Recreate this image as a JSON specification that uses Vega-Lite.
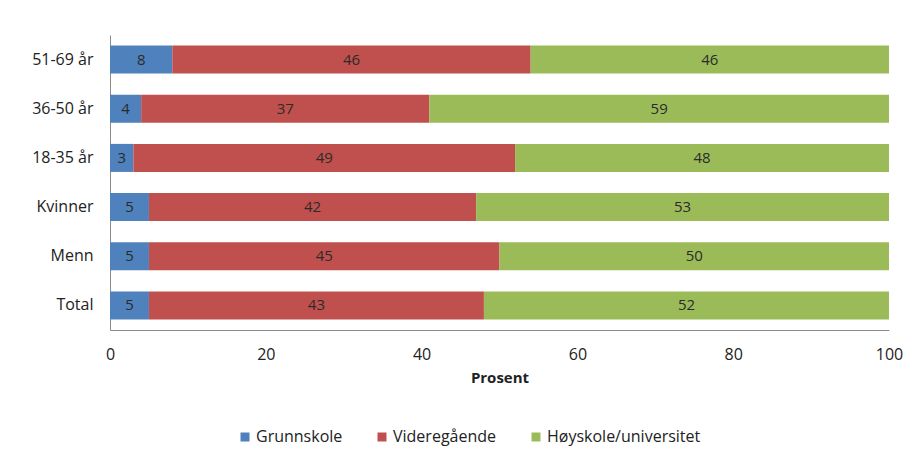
{
  "$schema": "https://vega.github.io/schema/vega-lite/v6.json",
  "width": 779,
  "height": 295,
  "autosize": {"type": "none"},
  "padding": {"left": 110, "top": 35, "right": 26, "bottom": 131},
  "background": "#ffffff",
  "config": {
    "font": "Open Sans",
    "view": {"stroke": null},
    "axis": {"grid": false, "ticks": false, "domainColor": "#8c8c8c", "labelColor": "#222222", "labelFontSize": 16, "labelFont": "Open Sans"}
  },
  "data": {
    "values": [
      {"kategori": "51-69 år", "utdanning": "Grunnskole", "rekkefølge": 1, "prosent": 8},
      {"kategori": "51-69 år", "utdanning": "Videregående", "rekkefølge": 2, "prosent": 46},
      {"kategori": "51-69 år", "utdanning": "Høyskole/universitet", "rekkefølge": 3, "prosent": 46},
      {"kategori": "36-50 år", "utdanning": "Grunnskole", "rekkefølge": 1, "prosent": 4},
      {"kategori": "36-50 år", "utdanning": "Videregående", "rekkefølge": 2, "prosent": 37},
      {"kategori": "36-50 år", "utdanning": "Høyskole/universitet", "rekkefølge": 3, "prosent": 59},
      {"kategori": "18-35 år", "utdanning": "Grunnskole", "rekkefølge": 1, "prosent": 3},
      {"kategori": "18-35 år", "utdanning": "Videregående", "rekkefølge": 2, "prosent": 49},
      {"kategori": "18-35 år", "utdanning": "Høyskole/universitet", "rekkefølge": 3, "prosent": 48},
      {"kategori": "Kvinner", "utdanning": "Grunnskole", "rekkefølge": 1, "prosent": 5},
      {"kategori": "Kvinner", "utdanning": "Videregående", "rekkefølge": 2, "prosent": 42},
      {"kategori": "Kvinner", "utdanning": "Høyskole/universitet", "rekkefølge": 3, "prosent": 53},
      {"kategori": "Menn", "utdanning": "Grunnskole", "rekkefølge": 1, "prosent": 5},
      {"kategori": "Menn", "utdanning": "Videregående", "rekkefølge": 2, "prosent": 45},
      {"kategori": "Menn", "utdanning": "Høyskole/universitet", "rekkefølge": 3, "prosent": 50},
      {"kategori": "Total", "utdanning": "Grunnskole", "rekkefølge": 1, "prosent": 5},
      {"kategori": "Total", "utdanning": "Videregående", "rekkefølge": 2, "prosent": 43},
      {"kategori": "Total", "utdanning": "Høyskole/universitet", "rekkefølge": 3, "prosent": 52}
    ]
  },
  "encoding": {
    "y": {
      "field": "kategori",
      "type": "nominal",
      "sort": ["51-69 år", "36-50 år", "18-35 år", "Kvinner", "Menn", "Total"],
      "scale": {"paddingInner": 0.43, "paddingOuter": 0.215},
      "axis": {"title": null, "labelPadding": 17}
    }
  },
  "layer": [
    {
      "mark": {"type": "bar"},
      "encoding": {
        "x": {
          "field": "prosent",
          "type": "quantitative",
          "stack": "zero",
          "scale": {"domain": [0, 100], "nice": false},
          "axis": {
            "values": [0, 20, 40, 60, 80, 100],
            "labelFlush": false,
            "labelPadding": 16,
            "title": "Prosent",
            "titleFontSize": 15,
            "titleFontWeight": "bold",
            "titleColor": "#222222",
            "titlePadding": 8
          }
        },
        "color": {
          "field": "utdanning",
          "type": "nominal",
          "scale": {
            "domain": ["Grunnskole", "Videregående", "Høyskole/universitet"],
            "range": ["#4f81bd", "#c0504d", "#9bbb59"]
          },
          "legend": {
            "title": null,
            "orient": "none",
            "direction": "horizontal",
            "legendX": 127,
            "legendY": 394,
            "symbolType": "square",
            "symbolSize": 81,
            "symbolStrokeWidth": 0,
            "labelFont": "Open Sans",
            "labelFontSize": 16,
            "labelColor": "#222222",
            "labelOffset": 3,
            "columnPadding": 31
          }
        },
        "order": {"field": "rekkefølge", "type": "quantitative"}
      }
    },
    {
      "transform": [
        {"stack": "prosent", "groupby": ["kategori"], "sort": [{"field": "rekkefølge"}], "as": ["start", "slutt"]},
        {"fold": ["start", "slutt"], "as": ["kant", "posisjon"]}
      ],
      "mark": {"type": "text", "fontSize": 15, "color": "#2b2b2b"},
      "encoding": {
        "x": {"aggregate": "mean", "field": "posisjon", "type": "quantitative"},
        "text": {"field": "prosent", "type": "quantitative"},
        "detail": {"field": "utdanning"}
      }
    }
  ]
}
